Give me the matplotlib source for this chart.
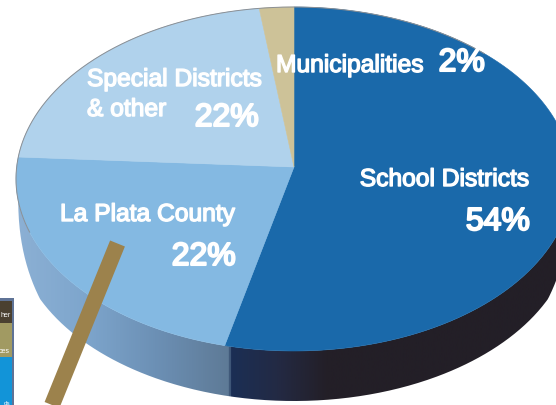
import numpy as np
import matplotlib
matplotlib.use("Agg")
import matplotlib.pyplot as plt
import matplotlib.patheffects as pe
from matplotlib.colors import LinearSegmentedColormap
from matplotlib.path import Path
from matplotlib.patches import PathPatch

categories = ["School Districts", "La Plata County", "Special Districts", "& other", "Municipalities"]
shares = [54, 22, 22, 2]
share_labels = ["54%", "22%", "22%", "2%"]

face_colors = ["#1a69aa", "#84b9e2", "#b0d2ec", "#cdc298"]
plt.rcParams["font.family"] = ["Liberation Sans", "DejaVu Sans"]

W, H = 556, 406
fig = plt.figure(figsize=(W / 100, H / 100), dpi=100)
ax = fig.add_axes([0, 0, 1, 1])
ax.set_xlim(0, W)
ax.set_ylim(H, 0)
ax.axis("off")

cx, cy, rx, ry = 294, 180, 278, 172
apex_x, apex_y = 294, 168
up, down = 160, 184
depth = 50


def rim_param(t):
    return cx + rx * np.sin(t), cy - ry * np.cos(t)


def ray_t(frac):
    """Ellipse parameter hit by the ray from the apex for a share boundary."""
    a = frac * 2 * np.pi
    c = np.cos(a)
    dx = rx * np.sin(a)
    dy = -(up if c > 0 else down) * c
    px, py = (apex_x - cx) / rx, (apex_y - cy) / ry
    qx, qy = dx / rx, dy / ry
    A = qx**2 + qy**2
    B = 2 * (px * qx + py * qy)
    C = px**2 + py**2 - 1
    s = (-B + np.sqrt(B**2 - 4 * A * C)) / (2 * A)
    hx, hy = px + s * qx, py + s * qy
    return np.arctan2(hx, -hy) % (2 * np.pi)


# side band
t_low = np.linspace(0.25, 0.75, 500) * 2 * np.pi
x_low, y_low = rim_param(t_low)
taper = np.clip((y_low - cy - 22) / 48, 0, 1) ** 0.4
side = np.column_stack([
    np.r_[x_low, x_low[::-1]],
    np.r_[y_low, (y_low + depth * taper)[::-1]],
])
grad = LinearSegmentedColormap.from_list(
    "side",
    [(0.0, "#8cb0d4"), (0.12, "#7ea6cd"), (0.25, "#6c90b5"), (0.383, "#5e7a96"), (0.386, "#1b2f55"),
     (0.47, "#232a44"), (0.56, "#231f27"), (1.0, "#231f27")],
)
im = ax.imshow(np.linspace(0, 1, 1024)[None, :], extent=(cx - rx, cx + rx, H, 0),
               cmap=grad, aspect="auto", zorder=1)
patch = PathPatch(Path(side), transform=ax.transData, fc="none", ec="none")
ax.add_patch(patch)
im.set_clip_path(patch)
ax.set_xlim(0, W)
ax.set_ylim(H, 0)

# top faces
edges = np.r_[0, np.cumsum(shares)] / sum(shares)
for i, c in enumerate(face_colors):
    t0 = ray_t(edges[i]) if i else 0.0
    t1 = ray_t(edges[i + 1]) if i < len(shares) - 1 else 2 * np.pi
    x, y = rim_param(np.linspace(t0, t1, 300))
    ax.fill(np.r_[apex_x, x], np.r_[apex_y, y], fc=c, ec=c, lw=0.4, zorder=2)

# outline at the back and left
to = np.linspace(0.70, 1.12, 400) * 2 * np.pi
xo, yo = rim_param(to)
ax.plot(xo, yo, color="#8b8f94", lw=0.7, zorder=3)

# pointer
ax.plot([117.5, 52], [244.5, 406], color="#9c824c", lw=11.5, solid_capstyle="butt", zorder=4)

# inset fragment at left
ax.fill_between([0, 14], 299, 406, color="#5f7396", lw=0, zorder=1)
ax.fill_between([0, 12], 302, 324, color="#4a4030", lw=0, zorder=2)
ax.fill_between([0, 12], 324, 358, color="#a19a62", lw=0, zorder=2)
ax.fill_between([0, 12], 358, 406, color="#1294d8", lw=0, zorder=2)
ax.text(11, 316, "her", color="white", fontsize=5, ha="right", va="center", zorder=3)
ax.text(10, 352, "ces", color="white", fontsize=5, ha="right", va="center", zorder=3)
ax.text(10, 404, "ds", color="white", fontsize=4.5, ha="right", va="center", zorder=3)

fs, fb = 17.7, 23
name = dict(color="white", fontweight="normal", zorder=5,
            path_effects=[pe.withStroke(linewidth=1.0, foreground="white")])
pct = dict(color="white", fontweight="normal", zorder=5,
           path_effects=[pe.withStroke(linewidth=1.5, foreground="white")])
ax.text(529, 180, categories[0], fontsize=fs, ha="right", va="center", **name)
ax.text(530, 223, share_labels[0], fontsize=fb, ha="right", va="center", **pct)
ax.text(60, 215, categories[1], fontsize=fs, ha="left", va="center", **name)
ax.text(236, 258, share_labels[1], fontsize=fb, ha="right", va="center", **pct)
ax.text(87, 80, categories[2], fontsize=fs, ha="left", va="center", **name)
ax.text(87, 110, categories[3], fontsize=fs, ha="left", va="center", **name)
ax.text(259, 119, share_labels[2], fontsize=fb, ha="right", va="center", **pct)
ax.text(276, 66, categories[4], fontsize=fs, ha="left", va="center", **name)
ax.text(485, 64, share_labels[3], fontsize=fb, ha="right", va="center", **pct)

fig.savefig("out.png", dpi=100)
